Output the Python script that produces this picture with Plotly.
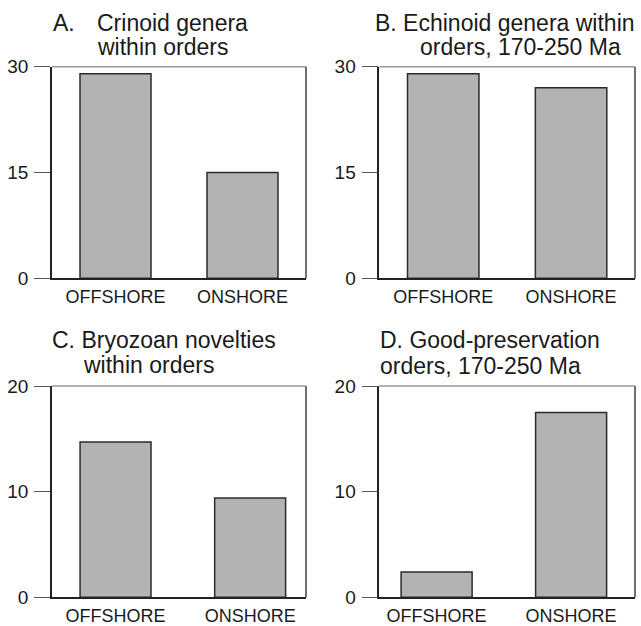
import plotly.graph_objects as go

categories = ["OFFSHORE", "ONSHORE"]
crinoid_values = [29, 15]
echinoid_values = [29, 27]
bryozoan_values = [14.7, 9.4]
goodpres_values = [2.4, 17.5]
ticks_30 = [0, 15, 30]
ticks_20 = [0, 10, 20]

W, H = 641, 626
FONT = "Liberation Sans, Arial, sans-serif"
BAR_FILL = "#b3b3b3"
BAR_LINE = "#2b2b2b"

def px_x(p):
    return p / W

def px_y(p):
    return 1 - p / H

panels = [
    # (values, xdomain px, ydomain px, xrange, barwidth, yrange, ticks)
    (crinoid_values, (52, 306), (66.7, 278.3), [-0.5, 1.5], 0.559, [0, 30], ticks_30),
    (echinoid_values, (379.3, 635), (66.7, 278.3), [-0.5, 1.5], 0.559, [0, 30], ticks_30),
    (bryozoan_values, (52, 306), (386, 597.3), [-0.472, 1.415], 0.527, [0, 20], ticks_20),
    (goodpres_values, (379.3, 635), (386, 597.3), [-0.426, 1.475], 0.528, [0, 20], ticks_20),
]

fig = go.Figure()
layout = dict(
    width=W, height=H,
    margin=dict(l=0, r=0, t=0, b=0, pad=0),
    paper_bgcolor="white", plot_bgcolor="white",
    showlegend=False,
    font=dict(family=FONT, color="#1a1a1a"),
    shapes=[], annotations=[],
)

for i, (vals, xd, yd, xr, bw, yr, tks) in enumerate(panels, start=1):
    sfx = "" if i == 1 else str(i)
    fig.add_trace(go.Bar(
        x=categories, y=vals, width=bw,
        marker=dict(color=BAR_FILL, line=dict(color=BAR_LINE, width=1.5)),
        xaxis="x" + sfx, yaxis="y" + sfx, hoverinfo="skip",
    ))
    layout["xaxis" + sfx] = dict(
        domain=[px_x(xd[0]), px_x(xd[1])], anchor="y" + sfx,
        type="category", range=xr, showgrid=False, zeroline=False,
        showline=True, linecolor="#222222", linewidth=1.5,
        ticks="", tickfont=dict(size=18, family=FONT, color="#1a1a1a"),
        ticklabelstandoff=1, fixedrange=True, automargin=False,
    )
    layout["yaxis" + sfx] = dict(
        domain=[px_y(yd[1]), px_y(yd[0])], anchor="x" + sfx,
        range=yr, tickvals=tks, showgrid=False, zeroline=False,
        showline=True, linecolor="#222222", linewidth=1.5,
        ticks="outside", ticklen=16, tickwidth=1.2, tickcolor="#555555",
        tickfont=dict(size=19, family=FONT, color="#1a1a1a"),
        ticklabelstandoff=2, fixedrange=True, automargin=False,
    )
    # top and right frame edges (lighter grey)
    layout["shapes"].append(dict(
        type="line", xref="x%s domain" % sfx, yref="y%s domain" % sfx,
        x0=0, x1=1, y0=1, y1=1, line=dict(color="#9a9a9a", width=1.5), layer="below"))
    layout["shapes"].append(dict(
        type="line", xref="x%s domain" % sfx, yref="y%s domain" % sfx,
        x0=1, x1=1, y0=0, y1=1, line=dict(color="#707070", width=2), layer="below"))

titles = [
    ("A.", 52, 22.7),
    ("Crinoid genera", 95.5, 22.7),
    ("within orders", 95.5, 47),
    ("B. Echinoid genera within", 374, 22.7),
    ("orders, 170-250 Ma", 419, 47),
    ("C. Bryozoan novelties", 51, 339.7),
    ("within orders", 82, 365.3),
    ("D. Good-preservation", 379.5, 339.7),
    ("orders, 170-250 Ma", 379.5, 366),
]
for txt, x, y in titles:
    layout["annotations"].append(dict(
        text=txt, xref="paper", yref="paper", x=px_x(x), y=px_y(y),
        xanchor="left", yanchor="middle", showarrow=False, borderpad=0,
        font=dict(size=23, family=FONT, color="#1a1a1a"),
    ))

fig.update_layout(**layout)
fig.write_html(
    "out.html",
    config={"displayModeBar": False},
    post_script="document.body.style.margin='0';document.body.style.padding='0';"
                "document.documentElement.style.overflow='hidden';",
)
